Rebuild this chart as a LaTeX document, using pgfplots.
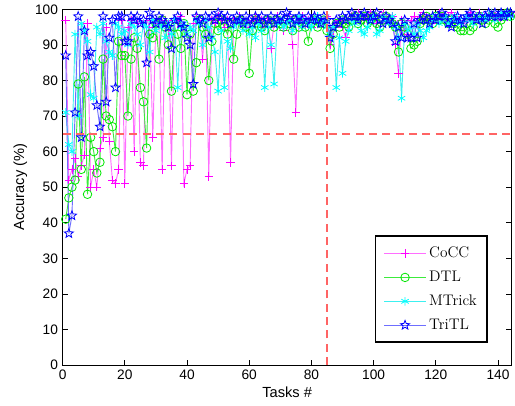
\documentclass[border=0pt]{standalone}
\usepackage{pgfplots}
\usepackage{pgfplotstable}
\pgfplotsset{compat=1.18}
\usepackage{fontspec}
\setsansfont{Liberation Sans}
\usetikzlibrary{plotmarks}

\definecolor{cocc}{RGB}{255,0,255}
\definecolor{coccline}{RGB}{255,110,255}
\definecolor{dtl}{RGB}{0,230,0}
\definecolor{dtlline}{RGB}{60,235,60}
\definecolor{mtrick}{RGB}{0,255,255}
\definecolor{mtrickline}{RGB}{60,240,240}
\definecolor{tritl}{RGB}{0,0,255}
\definecolor{tritlline}{RGB}{110,110,255}
\definecolor{guide}{RGB}{255,100,100}

\pgfdeclareplotmark{pentagram}{%
  \pgfpathmoveto{\pgfpointpolar{90}{\pgfplotmarksize}}%
  \pgfpathlineto{\pgfpointpolar{126}{0.42\pgfplotmarksize}}%
  \pgfpathlineto{\pgfpointpolar{162}{\pgfplotmarksize}}%
  \pgfpathlineto{\pgfpointpolar{198}{0.42\pgfplotmarksize}}%
  \pgfpathlineto{\pgfpointpolar{234}{\pgfplotmarksize}}%
  \pgfpathlineto{\pgfpointpolar{270}{0.42\pgfplotmarksize}}%
  \pgfpathlineto{\pgfpointpolar{306}{\pgfplotmarksize}}%
  \pgfpathlineto{\pgfpointpolar{342}{0.42\pgfplotmarksize}}%
  \pgfpathlineto{\pgfpointpolar{18}{\pgfplotmarksize}}%
  \pgfpathlineto{\pgfpointpolar{54}{0.42\pgfplotmarksize}}%
  \pgfpathclose\pgfusepathqstroke}

% legend sample: #1 line colour, #2 mark colour, #3 mark, #4 mark size
\newcommand\legsample[4]{%
  \draw[#1, line width=1pt, solid] (0cm,0cm) -- (1.1cm,0cm);
  \draw[#2, line width=0.6pt, solid] plot[mark=#3, mark size=#4, only marks] coordinates {(0.55cm,0cm)};}

% task, CoCC, DTL, MTrick, TriTL
\pgfplotstableread{
x c d m t
1 97 41 71 87
2 52 47 62 37
3 55 50 60 42
4 58 52 93 71
5 53 79 70 98
6 56 55 96 64
7 59 81 94 94
8 96 48 91 87
9 50 64 76 88
10 55 60 75 84
11 50 54 95 73
12 61 57 93 67
13 64 86 96 98
14 95 70 91 74
15 63 69 88 92
16 52 67 87 97
17 51 60 96 78
18 55 91 95 98
19 97 87 93 98
20 51 87 94 91
21 95 70 90 91
22 97 86 96 98
23 60 92 95 97
24 96 89 93 98
25 57 78 90 96
26 56 74 96 97
27 97 61 95 85
28 95 93 88 99
29 64 92 97 97
30 97 96 94 96
31 96 86 96 98
32 55 97 95 97
33 97 95 92 96
34 94 90 96 95
35 56 77 93 89
36 97 95 97 97
37 96 93 78 98
38 98 89 95 96
39 51 96 96 95
40 55 76 93 92
41 56 93 95 90
42 96 77 94 79
43 98 85 97 98
44 97 97 96 97
45 86 95 90 96
46 97 93 97 98
47 53 80 95 92
48 97 91 92 98
49 96 96 88 97
50 98 94 77 99
51 97 97 94 98
52 95 95 78 97
53 97 93 91 98
54 57 96 89 96
55 97 86 95 97
56 96 93 96 98
57 98 97 97 97
58 97 96 94 96
59 96 95 96 98
60 95 82 93 97
61 97 94 95 96
62 98 97 92 98
63 96 96 96 97
64 97 95 94 98
65 95 94 78 96
66 97 97 95 97
67 89 96 90 98
68 96 95 79 96
69 98 97 96 97
70 97 96 97 98
71 94 95 95 97
72 96 97 96 99
73 98 96 97 98
74 90 94 94 96
75 71 97 96 97
76 97 95 98 98
77 98 96 95 97
78 96 95 97 96
79 97 91 96 98
80 95 96 95 97
81 98 97 97 98
82 97 95 98 97
83 96 96 96 96
84 97 97 97 98
85 98 94 95 97
86 90 89 93 92
87 94 93 95 95
88 96 96 78 97
89 97 95 92 96
90 95 97 82 98
91 92 96 91 97
92 97 95 94 98
93 98 97 97 99
94 97 98 96 98
95 99 96 98 97
96 98 97 94 98
97 97 98 93 99
98 98 96 95 98
99 99 97 97 97
100 98 98 98 98
101 96 96 93 99
102 98 95 94 97
103 99 97 98 96
104 98 98 97 98
105 97 97 96 97
106 98 96 98 96
107 90 95 95 91
108 82 88 92 95
109 97 96 75 92
110 94 95 96 97
111 93 93 94 92
112 97 89 95 92
113 98 90 93 96
114 97 91 96 92
115 98 96 94 97
116 99 97 92 98
117 98 98 94 97
118 97 97 95 96
119 96 96 97 98
120 98 98 98 97
121 99 97 96 98
122 98 98 97 99
123 97 97 98 98
124 98 96 96 96
125 99 97 97 95
126 98 96 98 97
127 97 95 97 98
128 96 94 96 97
129 97 94 97 96
130 98 96 98 98
131 99 94 97 99
132 97 95 96 98
133 98 97 98 97
134 99 98 97 98
135 98 97 98 96
136 97 96 97 98
137 98 97 98 99
138 99 98 99 98
139 98 96 97 99
140 97 95 98 98
141 98 97 99 99
142 99 98 98 98
143 98 99 99 99
144 99 98 98 99
}\tasks

\begin{document}
\begin{tikzpicture}
\begin{axis}[
  set layers,
  scale only axis,
  width=337pt, height=267pt,
  xmin=0, xmax=144.4, ymin=0, ymax=100,
  xtick={0,20,...,140}, ytick={0,10,...,100},
  tick align=inside, tick pos=both,
  major tick length=4pt,
  axis line style={line width=0.8pt},
  tick style={line width=0.5pt, black},
  ticklabel style={font=\sffamily\fontsize{10.3}{12}\selectfont},
  /pgf/number format/assume math mode=true,
  xlabel={\sffamily Tasks \#}, ylabel={\sffamily Accuracy (\%)},
  label style={font=\sffamily\fontsize{11}{13}\selectfont},
  xlabel style={yshift=1pt},
  ylabel style={yshift=-1pt},
  legend style={at={(0.948,0.062)}, anchor=south east,
    line width=1.4pt, font=\rmfamily\fontsize{11.5}{14}\selectfont, row sep=4.5pt,
    inner xsep=6pt, inner ysep=6pt, cells={anchor=west}},
  legend cell align=left,
]
% threshold guides, put on the foreground layer so they sit over the data
\addplot[guide, line width=1.2pt, dash pattern=on 6pt off 4pt, forget plot,
  on layer=axis foreground] coordinates {(0,65) (144.4,65)};
\addplot[guide, line width=1.2pt, dash pattern=on 6pt off 4pt, forget plot,
  on layer=axis foreground] coordinates {(85,0) (85,100)};

\addplot[color=coccline, line width=0.7pt, mark=+, mark size=3.2pt,
  mark options={color=cocc, line width=0.6pt, solid},
  legend image code/.code={\legsample{coccline}{cocc}{+}{3.2pt}}] table[x=x, y=c] {\tasks};
\addlegendentry{CoCC}
\addplot[color=dtlline, line width=0.7pt, mark=o, mark size=3.2pt,
  mark options={color=dtl, line width=0.6pt, solid},
  legend image code/.code={\legsample{dtlline}{dtl}{o}{3.2pt}}] table[x=x, y=d] {\tasks};
\addlegendentry{DTL}
\addplot[color=mtrickline, line width=0.7pt, mark=asterisk, mark size=3.2pt,
  mark options={color=mtrick, line width=0.6pt, solid},
  legend image code/.code={\legsample{mtrickline}{mtrick}{asterisk}{3.2pt}}] table[x=x, y=m] {\tasks};
\addlegendentry{MTrick}
\addplot[color=tritlline, line width=0.7pt, mark=pentagram, mark size=3.6pt,
  mark options={color=tritl, line width=0.6pt, solid},
  legend image code/.code={\legsample{tritlline}{tritl}{pentagram}{3.6pt}}] table[x=x, y=t] {\tasks};
\addlegendentry{TriTL}
\coordinate (sw) at (rel axis cs:0,0);
\coordinate (ne) at (rel axis cs:1,1);
\end{axis}
\path (sw) ++(-47pt,-30pt);
\path (ne) ++(1.5pt,6.7pt);
\end{tikzpicture}
\end{document}
